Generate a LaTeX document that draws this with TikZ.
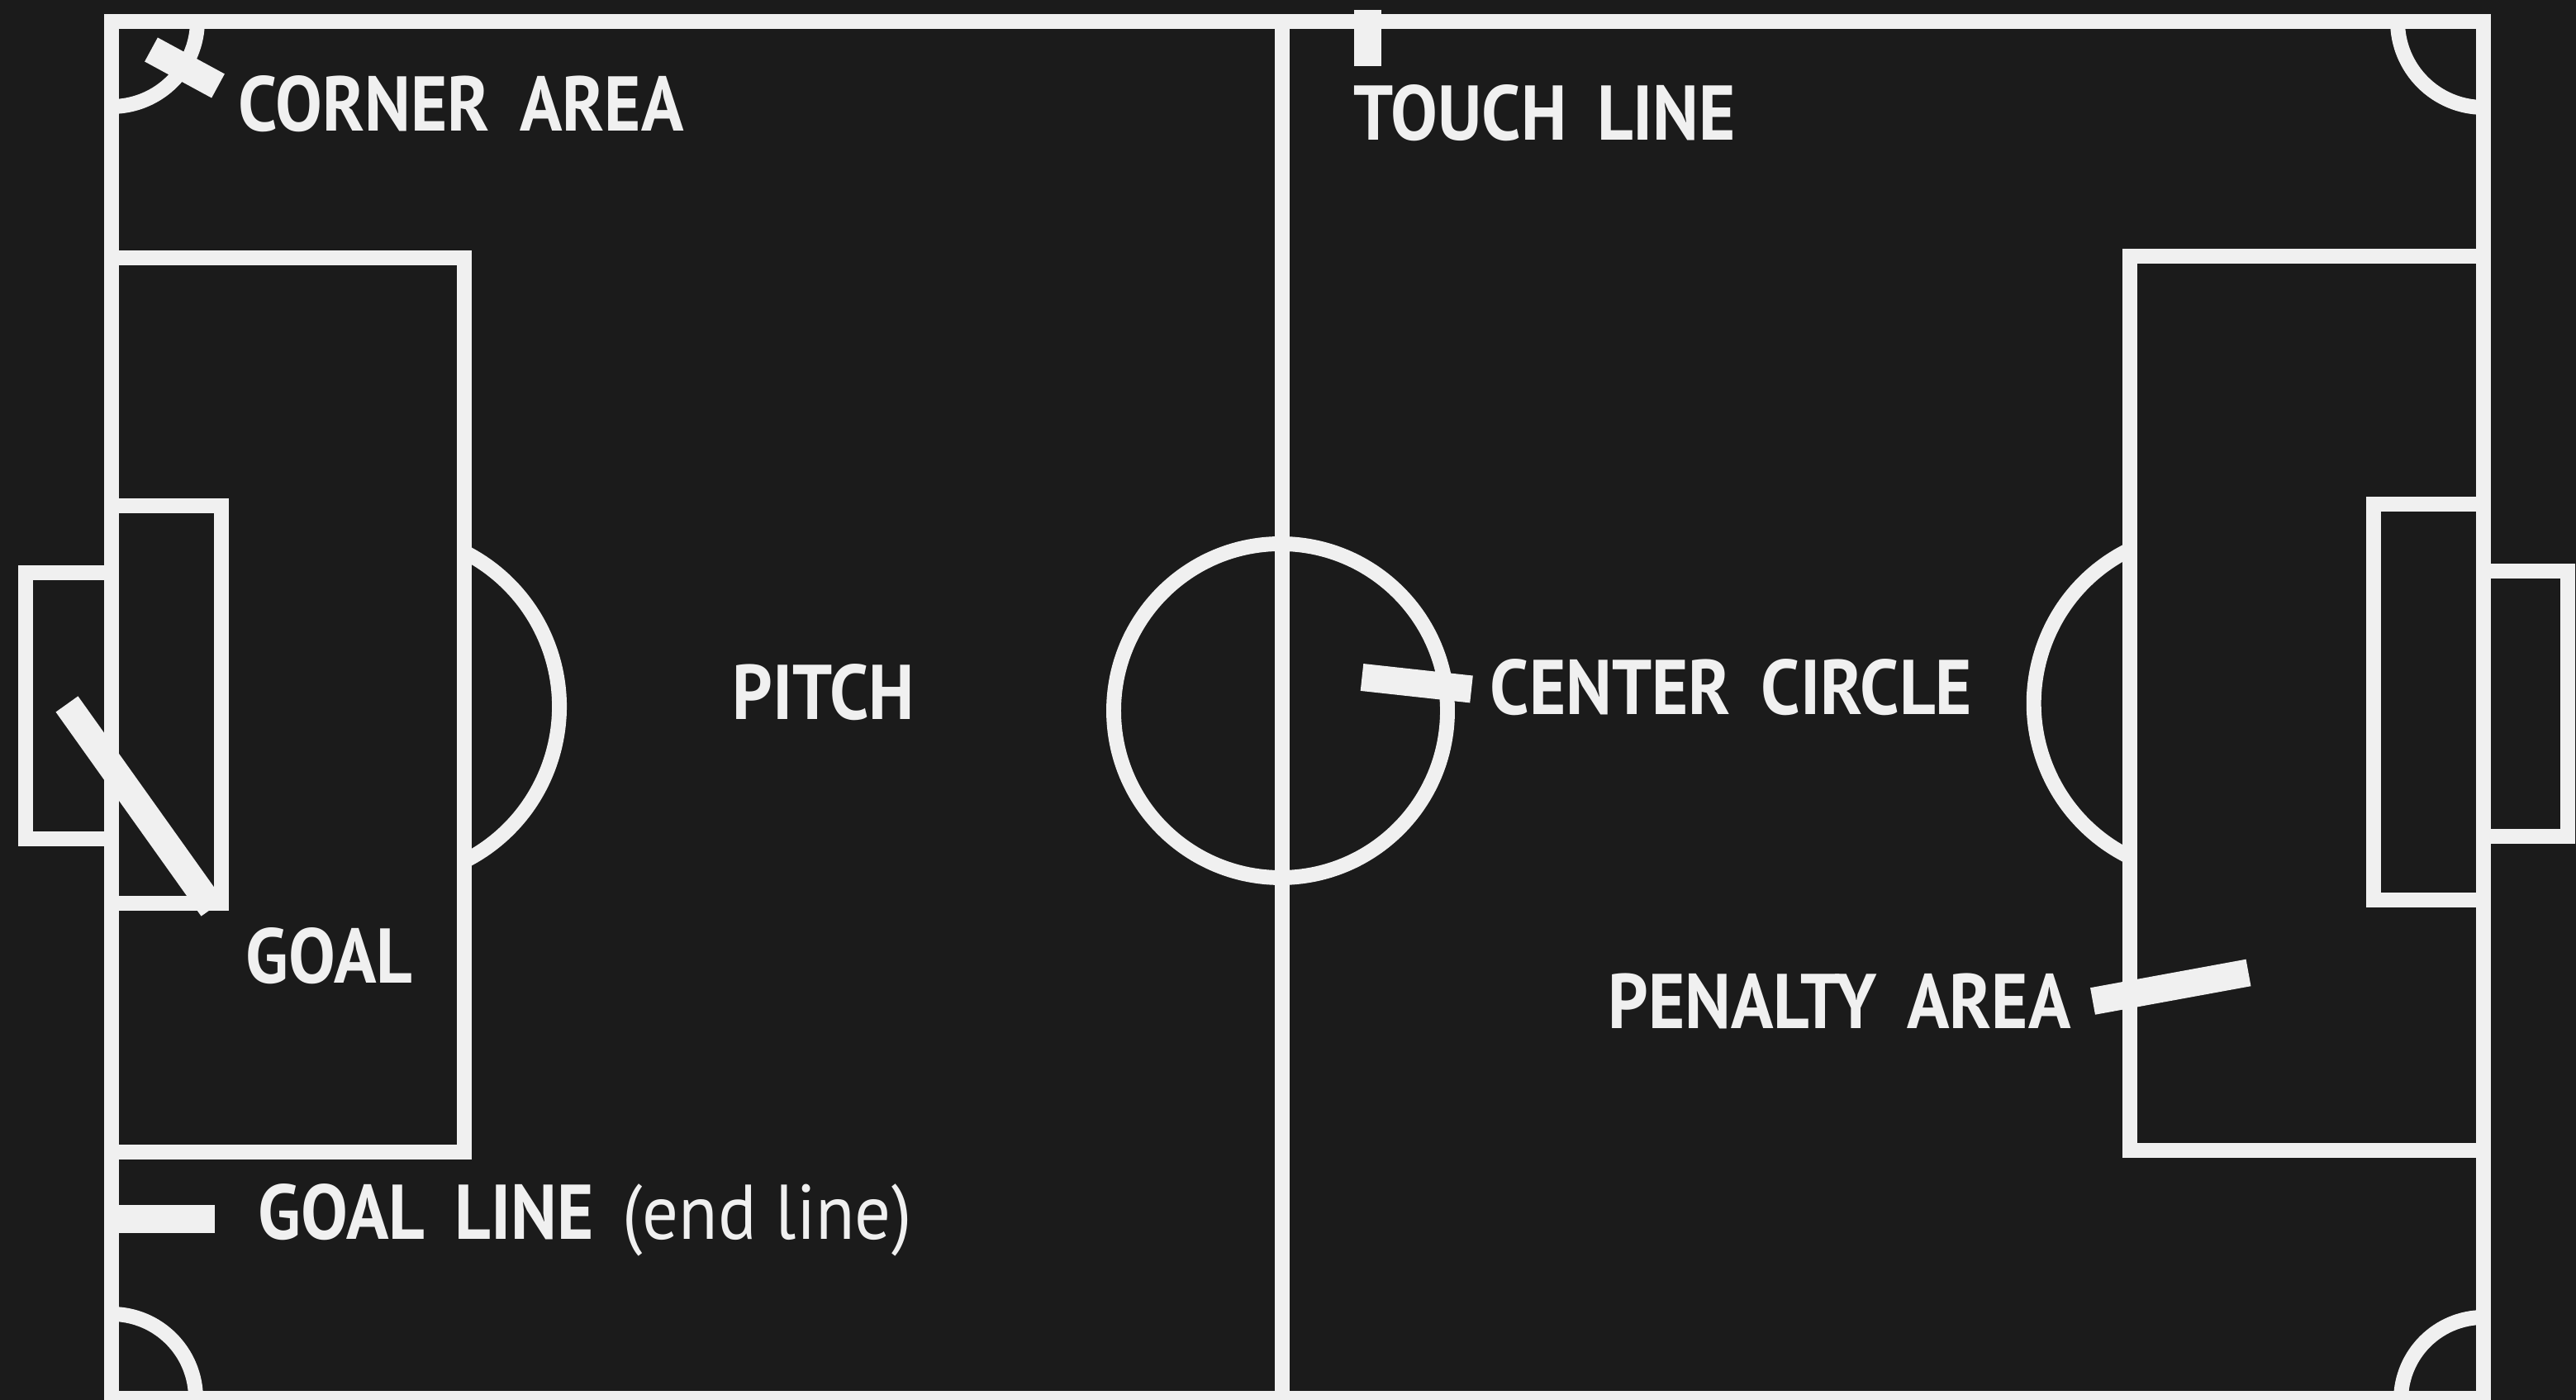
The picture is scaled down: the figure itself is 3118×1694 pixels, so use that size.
\documentclass[tikz,border=0pt]{standalone}
\usepackage{fontspec}
\setmainfont[WordSpace=1.7, FakeStretch=0.905]{PT Sans}
\newfontfamily\asidefont[FakeStretch=0.925]{PT Sans}
\definecolor{turf}{HTML}{1B1B1B}
\definecolor{chalk}{HTML}{F0F0F0}
\begin{document}
\begin{tikzpicture}[x=0.1mm, y=0.1mm]
    % Pitch style definitions
    \tikzset{
        pitchline/.style={chalk, line width=5.1pt},
        pointer/.style={chalk, line width=9.4pt},
        tag/.style={text=chalk, inner sep=0pt, anchor=base west, font=\fontsize{26.7}{30}\selectfont\bfseries}
    }
    \useasboundingbox (0, 0) rectangle (3118, 1694);
    \fill[turf] (0, 0) rectangle (3118, 1694);

    % ==========================================
    % FIELD MARKINGS
    % ==========================================
    % Boundary and halfway line
    \draw[pitchline] (135, 2) rectangle (3006, 1668);
    \draw[pitchline] (1552, 2) -- (1552, 1668);
    \draw[pitchline] (1550, 834) circle (202);

    % Corner arcs
    \draw[pitchline] (135, 1565) arc[start angle=-90, end angle=0, radius=104];
    \draw[pitchline] (237, 2) arc[start angle=0, end angle=90, radius=102];
    \draw[pitchline] (2902, 1668) arc[start angle=180, end angle=270, radius=104];
    \draw[pitchline] (3006, 100) arc[start angle=90, end angle=180, radius=100];

    % Left end: penalty area, goal area, goal, arc
    \draw[pitchline] (135, 1382) -- (562, 1382) -- (562, 300) -- (135, 300);
    \draw[pitchline] (135, 1082) -- (268, 1082) -- (268, 601) -- (135, 601);
    \draw[pitchline] (135, 1001) -- (31, 1001) -- (31, 679) -- (135, 679);
    \draw[pitchline] (562, 652) arc[start angle=-63.2, end angle=63.2, radius=209.5];

    % Right end: penalty area, goal area, goal, arc
    \draw[pitchline] (3006, 1384) -- (2578, 1384) -- (2578, 302) -- (3006, 302);
    \draw[pitchline] (3006, 1084) -- (2873, 1084) -- (2873, 605) -- (3006, 605);
    \draw[pitchline] (3006, 1003) -- (3108, 1003) -- (3108, 682) -- (3006, 682);
    \draw[pitchline] (2578, 1029) arc[start angle=116, end angle=244, radius=207];

    % ==========================================
    % POINTER BARS
    % ==========================================
    \draw[pointer] (183, 1634) -- (264, 1590);
    \draw[pointer] (1655, 1682) -- (1655, 1614);
    \draw[pointer] (1648.5, 874.5) -- (1781, 860);
    \draw[pointer] (81, 842) -- (257, 595);
    \draw[pointer] (2533, 482.5) -- (2721.5, 517);
    \draw[pointer] (135, 219) -- (260, 219);

    % ==========================================
    % LABELS
    % ==========================================
    \node[tag] (corner) at (288, 1535) {CORNER AREA};
    \node[tag] (touch) at (1638, 1524) {TOUCH LINE};
    \node[tag] (pitch) at (886, 823) {PITCH};
    \node[tag] (circle) at (1803, 829) {CENTER CIRCLE};
    \node[tag] (goal) at (297, 504) {GOAL};
    \node[tag] (penalty) at (1946, 449) {PENALTY AREA};
    \node[tag] (goalline) at (312, 194) {GOAL LINE};
    \node[tag, font=\fontsize{26.7}{30}\asidefont] (endline) at (753, 194) {(end line)};
\end{tikzpicture}
\end{document}
